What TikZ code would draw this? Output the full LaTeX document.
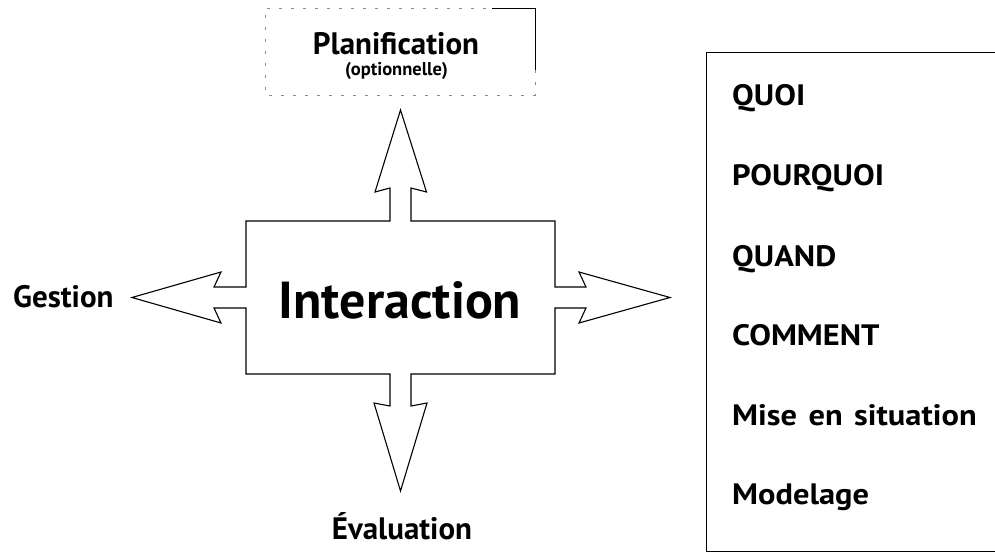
\documentclass[tikz,border=0pt]{standalone}
\usepackage{fontspec}
\setmainfont{PT Sans}
\newfontfamily\itemfont[FakeStretch=1.1,WordSpace=1.4]{PT Sans}
\begin{document}
\begin{tikzpicture}[x=1pt,y=-1pt,
  outline/.style={draw=black,line width=1.1pt,line join=miter},
  lbl/.style={inner sep=0pt,font=\bfseries\fontsize{31}{36}\selectfont},
  item/.style={inner sep=0pt,anchor=base west,font=\itemfont\bfseries\fontsize{29.5}{34}\selectfont},
  faint/.style={draw=black!45,line width=0.8pt,dash pattern=on 3pt off 9pt}]
\useasboundingbox (0,0) rectangle (995,553);
% central shape with four arrows
\draw[outline] (246,221) -- (390,221) -- (390,188) -- (375,192) -- (400.5,110)
  -- (426.5,192) -- (411,188) -- (411,221) -- (555,221) -- (555,287)
  -- (586,287) -- (579,272) -- (670,297.5) -- (579,323) -- (586,308)
  -- (555,308) -- (555,374) -- (411,374) -- (411,406) -- (427,403)
  -- (400.5,491) -- (374,403) -- (390,406) -- (390,374) -- (246,374)
  -- (246,308) -- (214,308) -- (221,323) -- (132,297.5) -- (221,272)
  -- (214,287) -- (246,287) -- cycle;
\node[inner sep=0pt,anchor=base,font=\bfseries\fontsize{52}{60}\selectfont] (inter) at (400,318) {Interaction};
% labels around
\node[lbl,anchor=base west] (gest) at (13,307) {Gestion};
\node[lbl,anchor=base] (plan) at (396,55) {Planification};
\node[inner sep=0pt,anchor=base,font=\bfseries\fontsize{18.5}{22}\selectfont] (opt) at (396.5,76) {(optionnelle)};
\node[lbl,anchor=base] (eval) at (402,539) {Évaluation};
% faint planification box
\draw[line width=0.9pt] (492,8) -- (535,8) -- (535,70);
\draw[faint] (535,70) -- (535,95) -- (265,95) -- (265,8) -- (492,8);
% right box
\draw[line width=0.9pt] (995,52) -- (706.5,52) -- (706.5,551) -- (995,551);
\node[item] (q1) at (732,106) {QUOI};
\node[item] (q2) at (732,186) {POURQUOI};
\node[item] (q3) at (732,266) {QUAND};
\node[item] (q4) at (732,345.5) {COMMENT};
\node[item] (q5) at (732,425) {Mise en situation};
\node[item] (q6) at (732,504) {Modelage};
\end{tikzpicture}
\end{document}
